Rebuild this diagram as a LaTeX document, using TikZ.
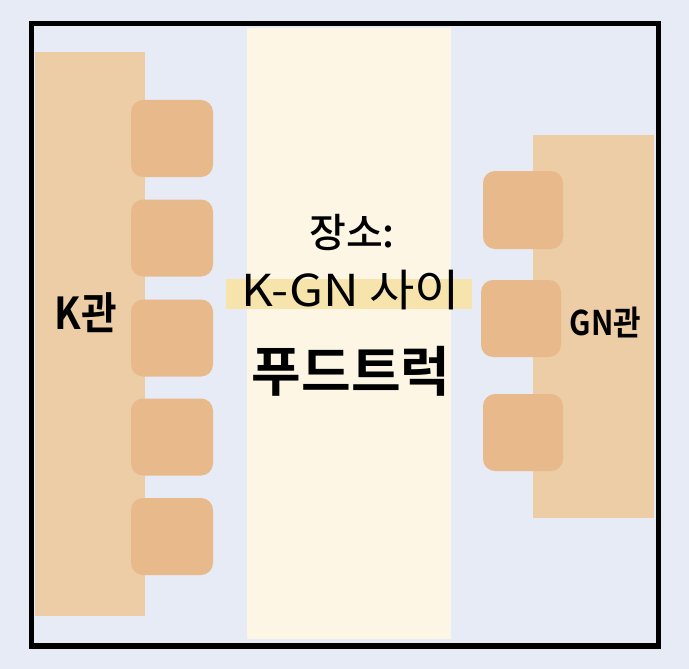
\documentclass[tikz,border=0pt]{standalone}
\usepackage{fontspec}
\newfontfamily\krwide[FakeStretch=1.12]{Noto Sans CJK KR}
\newfontfamily\krmed{Noto Sans CJK KR Medium}
\newfontfamily\krbold{Noto Sans CJK KR Bold}
\newfontfamily\krcond[FakeStretch=0.88]{Noto Sans CJK KR Bold}
\definecolor{paper}{RGB}{231,235,245}
\definecolor{hall}{RGB}{236,205,166}
\definecolor{booth}{RGB}{232,185,138}
\definecolor{cream}{RGB}{253,246,229}
\definecolor{hilite}{RGB}{246,228,172}
\tikzset{
  plain/.style={inner sep=0pt, outer sep=0pt},
  hallbox/.style={plain, fill=hall, draw=none},
  boothbox/.style={plain, fill=booth, draw=none, rounded corners=12pt, minimum width=82pt, minimum height=77pt},
  label/.style={plain, text=black},
}
\begin{document}
\begin{tikzpicture}[x=1pt,y=-1pt]
\useasboundingbox (0,0) rectangle (689,669);
\fill[paper] (0,0) rectangle (689,669);
% central street
\node[plain, fill=cream, minimum width=204pt, minimum height=611pt] (street) at (349,333.5) {};
% halls
\node[hallbox, minimum width=110pt, minimum height=564pt] (khall) at (90,334) {};
\node[hallbox, minimum width=121pt, minimum height=383pt] (gnhall) at (593.5,326.5) {};
% booths left
\node[boothbox] (k1) at (172,138.5) {};
\node[boothbox] (k2) at (172,238) {};
\node[boothbox] (k3) at (172,338) {};
\node[boothbox] (k4) at (172,437) {};
\node[boothbox] (k5) at (172,536.5) {};
% booths right
\node[boothbox, minimum width=80pt, minimum height=78pt] (g1) at (523,210) {};
\node[boothbox, minimum width=80pt] (g2) at (521,318.5) {};
\node[boothbox, minimum width=80pt] (g3) at (523,432.5) {};
% highlight
\node[plain, fill=hilite, minimum width=246pt, minimum height=30pt] (hl) at (349,294) {};
% frame
\node[plain, draw=black, line width=5.5pt, minimum width=627pt, minimum height=622.5pt] (frame) at (345,334.75) {};
% texts
\node[label, font=\krmed\fontsize{40}{44}\selectfont] (place) at (352,232) {장소:};
\node[label, font=\krwide\fontsize{44}{48}\selectfont] (between) at (351,290) {K-GN 사이};
\node[label, font=\krbold\fontsize{54}{58}\selectfont] (truck) at (351,371) {푸드트럭};
\node[label, font=\krcond\fontsize{44}{48}\selectfont] (klabel) at (86,313) {K관};
\node[label, font=\krcond\fontsize{34}{38}\selectfont] (gnlabel) at (605.5,322) {GN관};
\end{tikzpicture}
\end{document}
